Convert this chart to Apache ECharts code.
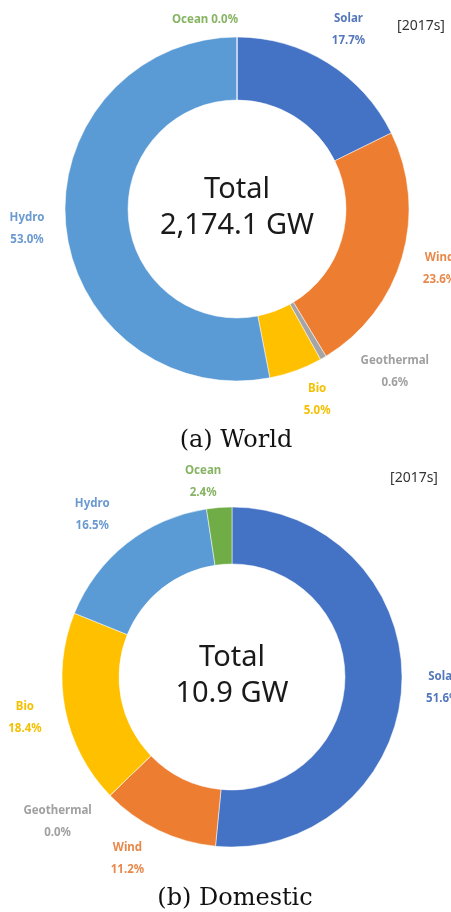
<!DOCTYPE html>
<html>
<head>
<meta charset="UTF-8">
<title>Renewable capacity 2017</title>
<style>
  html, body { margin: 0; padding: 0; background: #fff; }
  #container { width: 451px; height: 912px; }
</style>
<script src="https://cdn.jsdelivr.net/npm/echarts@6/dist/echarts.min.js"></script>
</head>
<body>
<div id="container"></div>
<script>
    // shares in %, clockwise from 12 o'clock
    var sources = ['Solar', 'Wind', 'Geothermal', 'Bio', 'Hydro', 'Ocean'];
    var worldShare = [17.7, 23.6, 0.6, 5.0, 53.0, 0.0];
    var domesticShare = [51.6, 11.2, 0.0, 18.4, 16.5, 2.4];
    var worldTotal = '2,174.1 GW';
    var domesticTotal = '10.9 GW';
    var yearTag = '[2017s]';
    var captions = ['(a) World', '(b) Domestic'];

    var colors = ['#4472C4', '#ED7D31', '#A5A5A5', '#FFC000', '#5B9BD5', '#70AD47'];
    var labelColors = ['#5577bb', '#e8884a', '#a0a0a0', '#f5c000', '#6a9ad0', '#86b462'];

    var worldCenter = [237, 209];
    var domCenter = [232, 677];

    // nudges for labels that were moved by hand in the original
    var worldShift = {Ocean: [-32, 22], Geothermal: [52, -20], Bio: [8, -8]};
    var domShift = {Ocean: [-13, 15], Hydro: [-9, 3], Wind: [-13, -8], Geothermal: [-23, -2]};

    function ring(center, r0, r, values, shift, oneLine) {
        var slices = {
            type: 'pie',
            center: center,
            radius: [r0, r],
            startAngle: 90,
            clockwise: true,
            silent: true,
            label: {show: false},
            labelLine: {show: false},
            itemStyle: {borderColor: '#ffffff', borderWidth: 0.5},
            data: sources.map(function (n, i) {
                return {name: n, value: values[i], itemStyle: {color: colors[i]}}
            })
        }
        // invisible ring that only carries the labels
        var labels = {
            type: 'pie',
            center: center,
            radius: [198, 218],
            startAngle: 90,
            clockwise: true,
            silent: true,
            itemStyle: {color: 'transparent'},
            labelLine: {show: false},
            label: {
                position: 'inside',
                fontFamily: 'Noto Sans',
                fontSize: 11.5,
                fontWeight: 'bold',
                lineHeight: 22,
                formatter: function (p) {
                    var pct = p.value.toFixed(1) + '%'
                    return p.name === oneLine ? p.name + ' ' + pct : p.name + '\n' + pct
                }
            },
            labelLayout: function (p) {
                var s = shift[sources[p.dataIndex]]
                return s ? {dx: s[0], dy: s[1]} : {}
            },
            data: sources.map(function (n, i) {
                return {name: n, value: values[i], label: {color: labelColors[i]}}
            })
        }
        return [slices, labels]
    }

    function centerText(center, total) {
        return {
            type: 'text', x: center[0], y: center[1] - 1, silent: true,
            style: {
                text: 'Total\n' + total, fill: '#1a1a1a', font: '29px "Noto Sans"',
                lineHeight: 36, align: 'center', verticalAlign: 'middle'
            }
        }
    }

    function caption(x, y, text) {
        return {
            type: 'text', x: x, y: y, silent: true,
            style: {text: text, fill: '#111', font: '24px "DejaVu Serif"', align: 'center', verticalAlign: 'middle'}
        }
    }

    function tag(x, y) {
        return {
            type: 'text', x: x, y: y, silent: true,
            style: {text: yearTag, fill: '#333', font: '14px "Noto Sans"', align: 'center', verticalAlign: 'middle'}
        }
    }

    var dom = document.getElementById('container')
    var myChart = echarts.init(dom, null, {renderer: 'canvas'})
    var option = {
        backgroundColor: '#FFFFFF',
        animation: false,
        series: ring(worldCenter, 109, 172, worldShare, worldShift, 'Ocean')
            .concat(ring(domCenter, 113, 170, domesticShare, domShift, null)),
        graphic: [
            centerText(worldCenter, worldTotal),
            centerText(domCenter, domesticTotal),
            caption(236, 441, captions[0]),
            caption(235, 899, captions[1]),
            tag(421, 26),
            tag(414, 478)
        ]
    }
    myChart.setOption(option, true)
</script>
</body>
</html>
